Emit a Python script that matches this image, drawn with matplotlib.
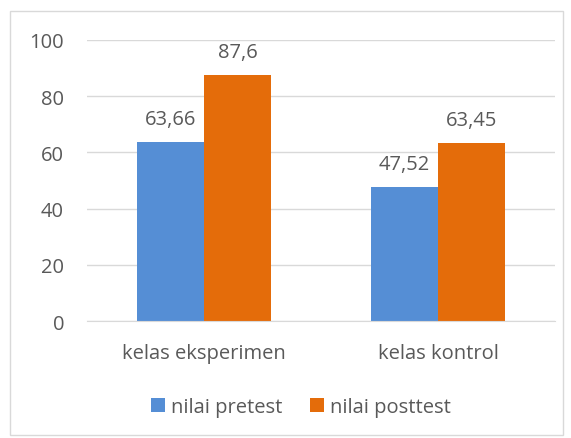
import matplotlib
matplotlib.use("Agg")
import matplotlib.pyplot as plt
import numpy as np
from matplotlib.patches import Rectangle

categories = ["kelas eksperimen", "kelas kontrol"]
series_names = ["nilai pretest", "nilai posttest"]
pretest = [63.66, 47.52]
posttest = [87.6, 63.45]
labels_pre = ["63,66", "47,52"]
labels_post = ["87,6", "63,45"]
yticks = [0, 20, 40, 60, 80, 100]

blue = "#558ED5"
orange = "#E46C0A"
txt = "#595959"
font = "Open Sans"
fs = 14.5

fig = plt.figure(figsize=(5.71, 4.39), dpi=100)
fig.patches.append(Rectangle((10/571, 1-436/439), 553/571, 424/439, transform=fig.transFigure,
                             fill=False, edgecolor="#D9D9D9", linewidth=1))
ax = fig.add_axes([87/571, 1-322/439, 468/571, 281/439])

x = np.arange(len(categories))
w = 0.286
b1 = ax.bar(x - w/2, pretest, w, color=blue, label=series_names[0])
b2 = ax.bar(x + w/2, posttest, w, color=orange, label=series_names[1])
for bars, labs in ((b1, labels_pre), (b2, labels_post)):
    for rect, lab in zip(bars, labs):
        ax.annotate(lab, (rect.get_x() + rect.get_width()/2, rect.get_height()),
                    xytext=(0, 13), textcoords="offset points",
                    ha="center", va="baseline", fontsize=fs, color=txt, family=font)

ax.set_xlim(-0.5, 1.5)
ax.set_ylim(0, 100)
ax.set_yticks(yticks)
ax.set_yticklabels([str(v) for v in yticks], fontsize=fs, color=txt, family=font)
ax.set_xticks(x)
ax.set_xticklabels(categories, fontsize=fs, color=txt, family=font)
ax.tick_params(length=0)
ax.tick_params(axis="y", pad=16.5)
ax.tick_params(axis="x", pad=15.5)
ax.grid(axis="y", color="#D9D9D9", linewidth=1)
ax.set_axisbelow(True)
for s in ["top", "right", "left"]:
    ax.spines[s].set_visible(False)
ax.spines["bottom"].set_color("#D9D9D9")

leg = fig.legend(loc="center", bbox_to_anchor=(301/571, 1-408/439), ncol=2, frameon=False,
                 prop={"family": font, "size": fs}, handlelength=0.7, handleheight=0.7,
                 handletextpad=0.3, columnspacing=1.4)
for t in leg.get_texts():
    t.set_color(txt)

fig.savefig("out.png", dpi=100)
